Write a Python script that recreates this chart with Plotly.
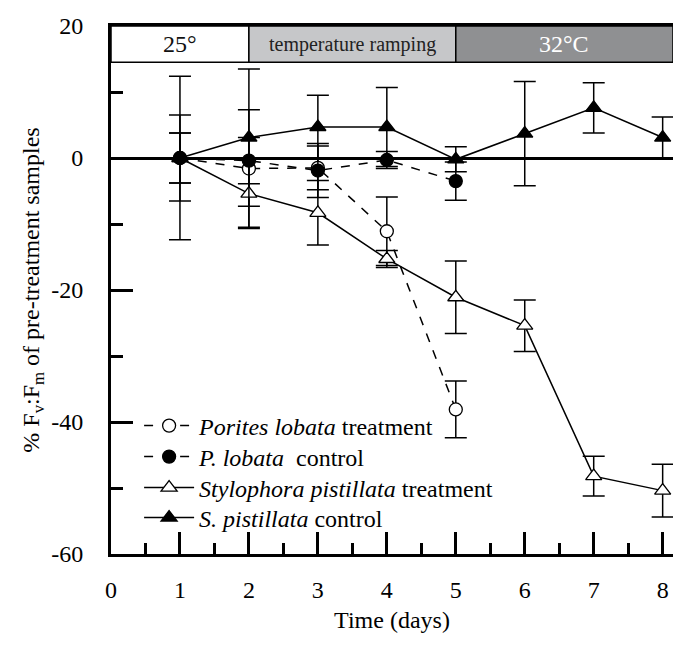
import plotly.graph_objects as go

# ---- data ----
days = [1, 2, 3, 4, 5, 6, 7, 8]

porites_trt_days = [1, 2, 3, 4, 5]
porites_trt = [0, -1.6, -1.5, -11.1, -38.1]
porites_trt_err = [3.8, 8.9, 3.3, 5.2, 4.3]

porites_ctl_days = [1, 2, 3, 4, 5]
porites_ctl = [0, -0.4, -1.9, -0.3, -3.5]
porites_ctl_err = [3.8, 3.5, 4.1, 1.3, 2.9]

stylo_trt = [0, -5.4, -8.3, -15.3, -21.1, -25.4, -48.2, -50.4]
stylo_trt_err = [6.5, 5.3, 4.9, 1.3, 5.5, 3.9, 3.0, 4.0]

stylo_ctl = [0, 3.1, 4.7, 4.7, -0.2, 3.7, 7.6, 3.1]
stylo_ctl_err = [12.4, 10.4, 4.8, 6.0, 1.9, 7.9, 3.8, 3.1]

series_names = [
    "<i>Porites lobata</i> treatment",
    "<i>P. lobata</i>\u00a0 control",
    "<i>Stylophora pistillata</i> treatment",
    "<i>S. pistillata</i> control",
]

phase_labels = ["25°", "temperature ramping", "32°C"]
phase_starts = [0, 2, 5]
phase_ends = [2, 5, 8.15]
phase_fill = ["white", "#c6c7c9", "#8f9092"]
phase_text = ["#111111", "#222222", "white"]
phase_fontsize = [24, 20, 24]

x_ticks = [0, 1, 2, 3, 4, 5, 6, 7, 8]
x_tick_labels = ["0", "1", "2", "3", "4", "5", "6", "7", "8"]
y_ticks = [-60, -40, -20, 0, 20]
y_tick_labels = ["-60", "-40", "-20", "0", "20"]

FONT = "Liberation Serif, serif"

fig = go.Figure()

legend_ids = ["legend", "legend2", "legend3", "legend4"]

def add(xs, ys, errs, name, symbol, fill, dash, leg):
    fig.add_trace(go.Scatter(
        x=xs, y=ys, name=name, mode="lines+markers", legend=leg,
        line=dict(color="black", width=1.5, dash=dash),
        marker=dict(symbol=symbol, size=14 if "triangle" in symbol else 13,
                    color=fill, line=dict(color="black", width=1.3)),
        error_y=dict(type="data", array=errs, visible=True,
                     color="black", thickness=1.5, width=11),
    ))

add(porites_trt_days, porites_trt, porites_trt_err, series_names[0], "circle", "white", "dash", legend_ids[0])
add(porites_ctl_days, porites_ctl, porites_ctl_err, series_names[1], "circle", "black", "dash", legend_ids[1])
add(days, stylo_trt, stylo_trt_err, series_names[2], "triangle-up", "white", "solid", legend_ids[2])
add(days, stylo_ctl, stylo_ctl_err, series_names[3], "triangle-up", "black", "solid", legend_ids[3])

# temperature phase bar
for lab, x0, x1, fc, tc, fs in zip(phase_labels, phase_starts, phase_ends,
                                    phase_fill, phase_text, phase_fontsize):
    fig.add_shape(type="rect", x0=x0, x1=x1, y0=14.5, y1=20, xref="x", yref="y",
                  fillcolor=fc, line=dict(color="black", width=1.5), layer="below")
    fig.add_annotation(x=(x0 + x1) / 2, y=17.25, text=lab, showarrow=False,
                       xref="x", yref="y",
                       font=dict(family=FONT, size=fs, color=tc))

tickfont = dict(family=FONT, size=24, color="black")

# one legend box per row so the row spacing matches the original
legend_rows_y = [0.2424, 0.1837, 0.125, 0.0682]
legend_layout = {}
for lid, ly in zip(legend_ids, legend_rows_y):
    legend_layout[lid] = dict(x=0.05, y=ly, xanchor="left", yanchor="middle",
                              bgcolor="rgba(0,0,0,0)", borderwidth=0,
                              font=dict(family=FONT, size=24, color="black"),
                              itemwidth=50)

fig.update_layout(
    width=673, height=649,
    margin=dict(l=111, r=0, t=26, b=95),
    plot_bgcolor="white", paper_bgcolor="white",
    font=dict(family=FONT, size=24, color="black"),
    showlegend=True,
    xaxis=dict(range=[0, 8.15], tickvals=x_ticks, ticktext=x_tick_labels,
               tickfont=tickfont, ticks="inside", ticklen=22,
               tickwidth=2.5, tickcolor="black", showline=True, linewidth=3,
               linecolor="black", mirror=True, showgrid=False, zeroline=False,
               ticklabelstandoff=12,
               minor=dict(dtick=0.5, tick0=0, ticks="inside", ticklen=11,
                          tickwidth=2.5, tickcolor="black", showgrid=False),
               title=dict(text="Time (days)",
                          font=dict(family=FONT, size=24, color="black"),
                          standoff=10)),
    yaxis=dict(range=[-60, 20], tickvals=y_ticks, ticktext=y_tick_labels,
               tickfont=tickfont, ticks="inside", ticklen=22,
               tickwidth=2.5, tickcolor="black", showline=True, linewidth=3,
               linecolor="black", showgrid=False, zeroline=True,
               zerolinewidth=2.5, zerolinecolor="black",
               ticklabelstandoff=20,
               minor=dict(dtick=10, tick0=0, ticks="inside", ticklen=12,
                          tickwidth=2.5, tickcolor="black", showgrid=False),
               title=dict(text="% F<sub>v</sub>:F<sub>m</sub> of pre-treatment samples",
                          font=dict(family=FONT, size=24, color="black"),
                          standoff=5)),
    **legend_layout,
)

fig.write_html("out.html")
